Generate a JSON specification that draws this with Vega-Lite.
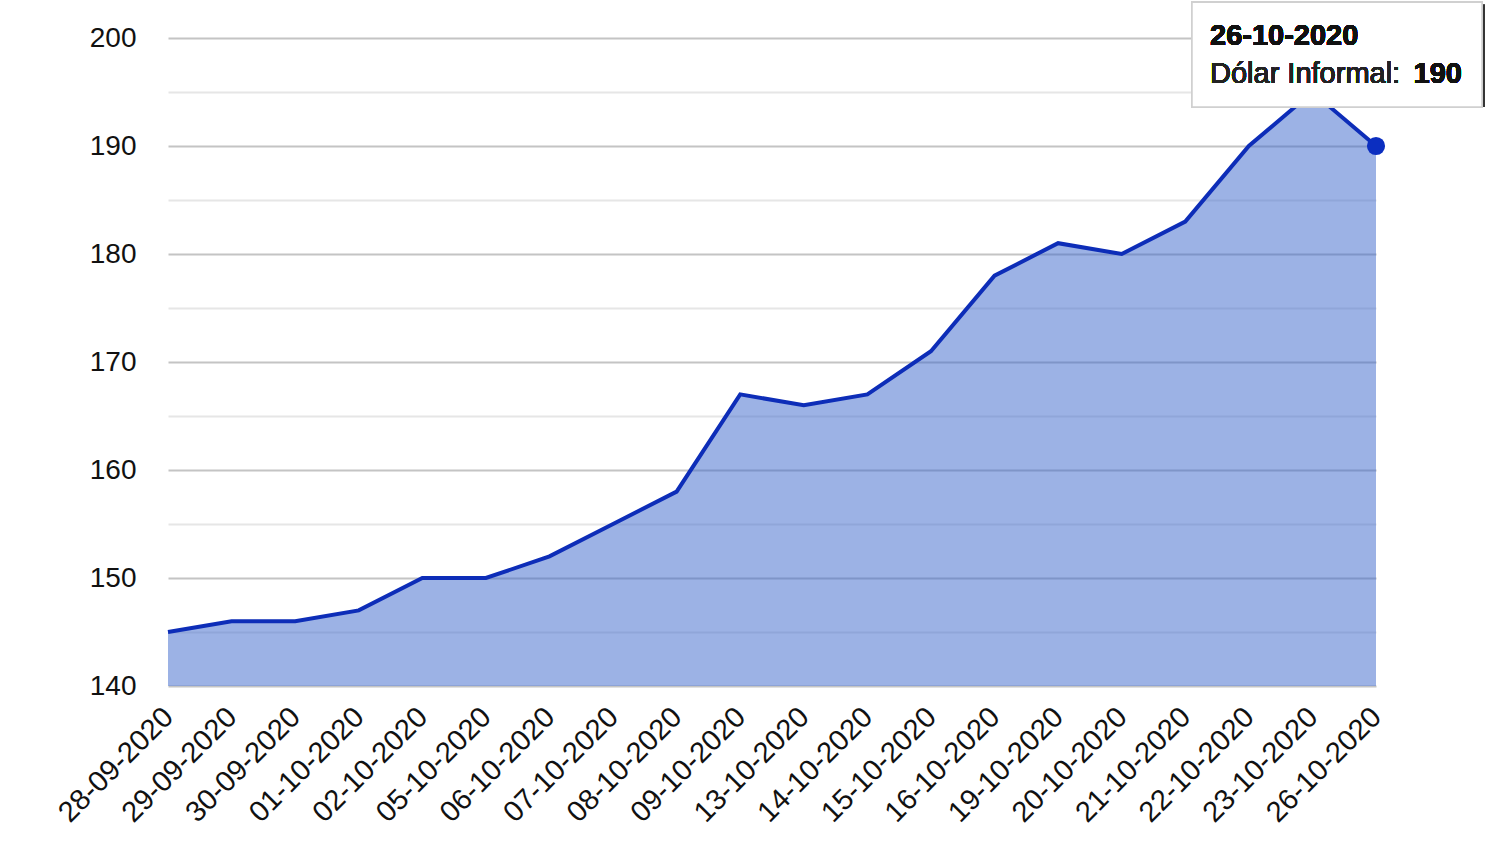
{
  "$schema": "https://vega.github.io/schema/vega-lite/v6.json",
  "autosize": {"type": "none"},
  "width": 1208,
  "height": 648,
  "padding": {"left": 168, "top": 38, "right": 124, "bottom": 164},
  "background": "white",
  "config": {"view": {"stroke": null}, "font": "Liberation Sans"},
  "data": {"values": [
    {"fecha": "28-09-2020", "valor": 145},
    {"fecha": "29-09-2020", "valor": 146},
    {"fecha": "30-09-2020", "valor": 146},
    {"fecha": "01-10-2020", "valor": 147},
    {"fecha": "02-10-2020", "valor": 150},
    {"fecha": "05-10-2020", "valor": 150},
    {"fecha": "06-10-2020", "valor": 152},
    {"fecha": "07-10-2020", "valor": 155},
    {"fecha": "08-10-2020", "valor": 158},
    {"fecha": "09-10-2020", "valor": 167},
    {"fecha": "13-10-2020", "valor": 166},
    {"fecha": "14-10-2020", "valor": 167},
    {"fecha": "15-10-2020", "valor": 171},
    {"fecha": "16-10-2020", "valor": 178},
    {"fecha": "19-10-2020", "valor": 181},
    {"fecha": "20-10-2020", "valor": 180},
    {"fecha": "21-10-2020", "valor": 183},
    {"fecha": "22-10-2020", "valor": 190},
    {"fecha": "23-10-2020", "valor": 195},
    {"fecha": "26-10-2020", "valor": 190}
  ]},
  "encoding": {
    "x": {
      "field": "fecha", "type": "ordinal", "sort": null,
      "scale": {"type": "point", "padding": 0},
      "axis": {
        "title": null, "domain": false, "ticks": false, "grid": false,
        "labelAngle": -45, "labelAlign": "right", "labelBaseline": "middle",
        "labelPadding": 26, "labelFontSize": 29, "labelColor": "#111111",
        "labelFont": "Liberation Sans"
      }
    },
    "y": {
      "field": "valor", "type": "quantitative",
      "scale": {"domain": [140, 200], "nice": false, "zero": false},
      "axis": {
        "title": null, "domain": false, "ticks": false,
        "values": [140, 145, 150, 155, 160, 165, 170, 175, 180, 185, 190, 195, 200],
        "labelExpr": "datum.value % 10 === 0 ? datum.label : ''",
        "labelPadding": 32, "labelFontSize": 28, "labelColor": "#111111",
        "labelFont": "Liberation Sans",
        "gridColor": {"condition": {"test": "datum.value % 10 === 0", "value": "#c4c4c4"}, "value": "#e6e6e6"},
        "gridWidth": 2
      }
    }
  },
  "layer": [
    {
      "mark": {"type": "area", "color": "#3a66cc", "opacity": 0.5},
      "encoding": {"y2": {"datum": 140}}
    },
    {"mark": {"type": "line", "color": "#0d2db8", "strokeWidth": 4}},
    {
      "transform": [{"filter": "datum.fecha === '26-10-2020'"}],
      "mark": {"type": "point", "filled": true, "color": "#0b2ec0", "size": 330, "opacity": 1}
    },
    {
      "mark": {"type": "rect", "width": 292, "xOffset": -37, "yOffset": 2, "color": "#000000", "opacity": 0.07},
      "encoding": {
        "x": {"datum": "26-10-2020"},
        "y": {"datum": 203.3},
        "y2": {"datum": 193.6}
      }
    },
    {
      "mark": {"type": "rect", "width": 290, "xOffset": -39, "fill": "white", "stroke": "#d0d0d0", "strokeWidth": 1.5},
      "encoding": {
        "x": {"datum": "26-10-2020"},
        "y": {"datum": 203.3},
        "y2": {"datum": 193.6}
      }
    },
    {
      "mark": {"type": "text", "text": "26-10-2020", "align": "left", "baseline": "alphabetic", "dx": -166, "dy": 7, "fontSize": 29, "fontWeight": "bold", "fill": "#111111"},
      "encoding": {"x": {"datum": "26-10-2020"}, "y": {"datum": 200}}
    },
    {
      "mark": {"type": "text", "text": "Dólar Informal:", "align": "left", "baseline": "alphabetic", "dx": -166, "dy": 45, "fontSize": 29, "fill": "#222222"},
      "encoding": {"x": {"datum": "26-10-2020"}, "y": {"datum": 200}}
    },
    {
      "mark": {"type": "text", "text": "190", "align": "right", "baseline": "alphabetic", "dx": 86, "dy": 45, "fontSize": 29, "fontWeight": "bold", "fill": "#111111"},
      "encoding": {"x": {"datum": "26-10-2020"}, "y": {"datum": 200}}
    }
  ]
}
